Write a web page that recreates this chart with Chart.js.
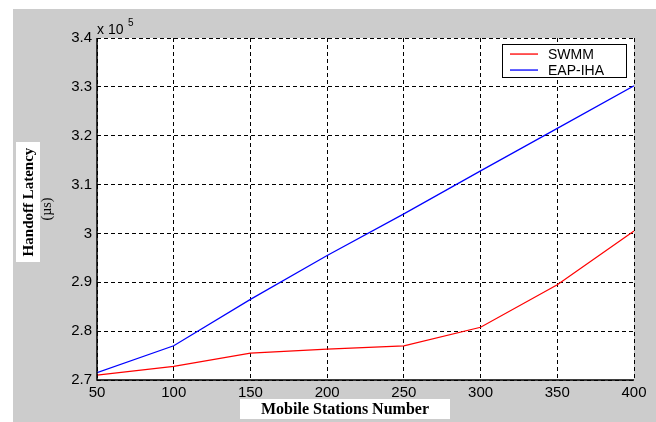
<!DOCTYPE html>
<html>
<head>
<meta charset="utf-8">
<script src="https://cdn.jsdelivr.net/npm/chart.js@4/dist/chart.umd.min.js"></script>
<style>
  html, body { margin: 0; padding: 0; background: #fff; }
  #wrap { width: 656px; height: 422px; }
</style>
</head>
<body>
<div id="wrap"><canvas id="latencyChart" width="656" height="422"></canvas></div>
<script>
// data (latency in units of 10^5 us)
const stations = [50, 100, 150, 200, 250, 300, 350, 400];
const swmm = [2.710, 2.728, 2.755, 2.763, 2.770, 2.808, 2.895, 3.005];
const eapIha = [2.715, 2.770, 2.865, 2.955, 3.040, 3.128, 3.215, 3.302];
const yTicks = ['2.7', '2.8', '2.9', '3', '3.1', '3.2', '3.3', '3.4'];
const seriesNames = ['SWMM', 'EAP-IHA'];
const seriesColors = ['#ff0000', '#0000ff'];

const toPoints = vals => stations.map((s, i) => ({ x: s, y: vals[i] }));

// background, frame, legend and titles drawn by hand (matlab look)
const matlabLook = {
    id: 'matlabLook',
    beforeDraw(chart) {
        const ctx = chart.ctx;
        const a = chart.chartArea;
        ctx.save();
        ctx.fillStyle = '#fff';
        ctx.fillRect(0, 0, chart.width, chart.height);
        ctx.fillStyle = '#cccccc';
        ctx.fillRect(13, 9, chart.width - 13, chart.height - 9);
        ctx.fillStyle = '#fff';
        ctx.fillRect(a.left, a.top, a.right - a.left, a.bottom - a.top);
        ctx.restore();
    },
    afterDraw(chart) {
        const ctx = chart.ctx;
        const a = chart.chartArea;
        ctx.save();
        // solid left and bottom axes
        ctx.strokeStyle = '#000';
        ctx.lineWidth = 1.5;
        ctx.setLineDash([]);
        ctx.beginPath();
        ctx.moveTo(a.left, a.top);
        ctx.lineTo(a.left, a.bottom);
        ctx.lineTo(a.right, a.bottom);
        ctx.stroke();

        // legend
        ctx.fillStyle = '#fff';
        ctx.fillRect(502, 44, 124, 33);
        ctx.lineWidth = 1;
        ctx.strokeStyle = '#000';
        ctx.strokeRect(502.5, 44.5, 124, 33);
        ctx.font = '14px "Liberation Sans", Arial, sans-serif';
        ctx.textBaseline = 'middle';
        ctx.textAlign = 'left';
        seriesNames.forEach((name, i) => {
            const y = 54 + i * 16;
            ctx.fillStyle = seriesColors[i];
            ctx.fillRect(510, y - 0.6, 28, 1.3);
            ctx.fillStyle = '#000';
            ctx.fillText(name, 548, y + 1);
        });

        // exponent
        ctx.fillStyle = '#000';
        ctx.textBaseline = 'alphabetic';
        ctx.font = '14px "Liberation Sans", Arial, sans-serif';
        ctx.fillText('x 10', 97, 34);
        ctx.font = '10px "Liberation Sans", Arial, sans-serif';
        ctx.fillText('5', 128, 26);

        // x title
        ctx.fillStyle = '#fff';
        ctx.fillRect(240, 399, 210, 20);
        ctx.fillStyle = '#000';
        ctx.font = 'bold 16px "Liberation Serif", "Times New Roman", serif';
        ctx.textAlign = 'center';
        ctx.textBaseline = 'middle';
        ctx.fillText('Mobile Stations Number', 345, 410);

        // y title
        ctx.translate(28, 202);
        ctx.rotate(-Math.PI / 2);
        ctx.fillStyle = '#fff';
        ctx.fillRect(-60, -12, 120, 24);
        ctx.fillStyle = '#000';
        ctx.font = 'bold 15px "Liberation Serif", "Times New Roman", serif';
        ctx.fillText('Handoff Latency', 0, 1);
        ctx.font = '14px "Liberation Serif", "Times New Roman", serif';
        ctx.fillText('(\u00b5s)', -7, 19);
        ctx.restore();
    }
};

const ctx = document.getElementById('latencyChart').getContext('2d');
new Chart(ctx, {
    type: 'line',
    data: {
        datasets: [
            {
                label: seriesNames[0],
                data: toPoints(swmm),
                borderColor: seriesColors[0],
                borderWidth: 1.2,
                pointRadius: 0,
                fill: false,
                tension: 0
            },
            {
                label: seriesNames[1],
                data: toPoints(eapIha),
                borderColor: seriesColors[1],
                borderWidth: 1.2,
                pointRadius: 0,
                fill: false,
                tension: 0
            }
        ]
    },
    options: {
        responsive: false,
        animation: false,
        layout: { padding: { left: 0, top: 38, right: 22, bottom: 0 } },
        plugins: {
            legend: { display: false },
            tooltip: { enabled: false }
        },
        scales: {
            x: {
                type: 'linear',
                min: 50,
                max: 400,
                afterFit(scale) { scale.height = 42; },
                ticks: {
                    stepSize: 50,
                    padding: 4,
                    color: '#000',
                    font: { family: '"Liberation Sans", Arial, sans-serif', size: 15 },
                    maxRotation: 0
                },
                grid: { color: '#000', lineWidth: 1, drawTicks: false },
                border: { display: false, dash: [4, 3] }
            },
            y: {
                type: 'linear',
                min: 2.7,
                max: 3.4,
                afterFit(scale) { scale.width = 97; },
                afterBuildTicks(scale) {
                    scale.ticks = yTicks.map(t => ({ value: parseFloat(t) }));
                },
                ticks: {
                    padding: 5,
                    color: '#000',
                    font: { family: '"Liberation Sans", Arial, sans-serif', size: 15 },
                    callback: function(value) {
                        return yTicks.find(t => Math.abs(parseFloat(t) - value) < 1e-6) || '';
                    }
                },
                grid: { color: '#000', lineWidth: 1, drawTicks: false },
                border: { display: false, dash: [4, 3] }
            }
        }
    },
    plugins: [matlabLook]
});
</script>
</body>
</html>
